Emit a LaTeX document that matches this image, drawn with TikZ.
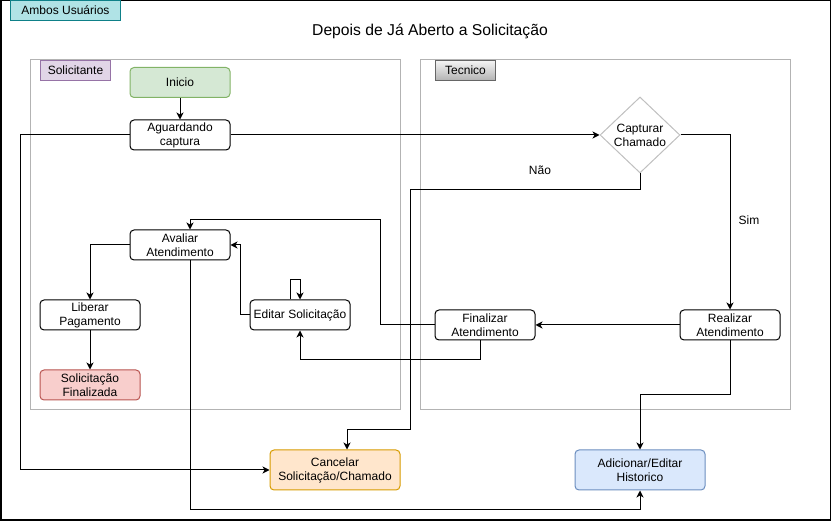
\documentclass[tikz,border=0pt]{standalone}
\usepackage{fontspec}
\setmainfont{Liberation Sans}
\usetikzlibrary{shapes.geometric,arrows.meta}
\definecolor{lanegray}{HTML}{B3B3B3}
\definecolor{tealfill}{HTML}{B0E3E6}
\definecolor{tealdraw}{HTML}{0E8088}
\definecolor{purfill}{HTML}{E1D5E7}
\definecolor{purdraw}{HTML}{9673A6}
\definecolor{grnfill}{HTML}{D5E8D4}
\definecolor{grndraw}{HTML}{82B366}
\definecolor{redfill}{HTML}{F8CECC}
\definecolor{reddraw}{HTML}{B85450}
\definecolor{orgfill}{HTML}{FFE6CC}
\definecolor{orgdraw}{HTML}{D79B00}
\definecolor{blufill}{HTML}{DAE8FC}
\definecolor{bludraw}{HTML}{6C8EBF}
\definecolor{diadraw}{HTML}{C0C0C0}
\begin{document}
\begin{tikzpicture}[x=1pt,y=-1pt,
  every node/.style={font=\fontsize{12}{14}\selectfont},
  proc/.style={draw=black,line width=1pt,rounded corners=4pt,fill=white,align=center,inner sep=0pt,minimum width=100pt,minimum height=30pt},
  bigproc/.style={proc,minimum width=130pt,minimum height=40pt},
  lane/.style={draw=lanegray,line width=1pt},
  tag/.style={line width=1pt,inner sep=0pt,minimum height=20pt,anchor=north west},
  conn/.style={draw=black,line width=1pt},
  arr/.style={conn,-{Stealth[length=7pt,width=7pt,inset=2pt]}}]
\useasboundingbox (0,0) rectangle (831,521);
% outer frame
\draw[black,line width=1.5pt] (0.75,0.75) rectangle (830.25,520.25);
\node[tag,draw=tealdraw,fill=tealfill,minimum width=110pt] (ambos) at (10,0) {Ambos Usuários};
\node[font=\fontsize{15.7}{18}\selectfont] (title) at (430,31) {Depois de Já Aberto a Solicitação};
% lanes
\draw[lane] (30,60) rectangle (400,410);
\draw[lane] (420,60) rectangle (790,410);
\node[tag,draw=purdraw,fill=purfill,minimum width=70pt] (sol) at (40,60) {Solicitante};
\node[tag,draw=gray!80!black,top color=white!96!black,bottom color=white!70!black,minimum width=60pt] (tec) at (435,60) {Tecnico};
% nodes
\node[proc,draw=grndraw,fill=grnfill] (inicio) at (180,82.5) {Inicio};
\node[proc] (aguard) at (180,135) {Aguardando\\captura};
\node[diamond,draw=diadraw,line width=1pt,fill=white,inner sep=0pt,minimum width=80pt,minimum height=76pt,
  label={[align=center]center:Capturar\\Chamado}] (cap) at (640,135) {};
\node[proc] (real) at (730,325) {Realizar\\Atendimento};
\node[proc] (fin) at (485,325) {Finalizar\\Atendimento};
\node[proc] (edit) at (300,315) {Editar Solicitação};
\node[proc] (aval) at (180,245) {Avaliar\\Atendimento};
\node[proc] (lib) at (90,315) {Liberar\\Pagamento};
\node[proc,draw=reddraw,fill=redfill] (solfin) at (90,385) {Solicitação\\Finalizada};
\node[bigproc,draw=orgdraw,fill=orgfill] (cancel) at (335,470) {Cancelar\\Solicitação/Chamado};
\node[bigproc,draw=bludraw,fill=blufill] (hist) at (640,470) {Adicionar/Editar\\Historico};
\node (sim) at (749,220) {Sim};
\node (nao) at (540,170) {Não};
% connectors
\draw[arr] (inicio) -- (aguard);
\draw[arr] (aguard.east) -- (cap.west);
\draw[arr] (aguard.west) -- (20,135) |- (cancel.west);
\draw[arr] (cap.east) -| (real.north);
\draw[arr] (cap.south) -- (640,190) -- (410,190) -- (410,430) -- (347,430) -- (347,0 |- cancel.north);
\draw[arr] (real.west) -- (fin.east);
\draw[arr] (real.south) -- (730,395) -| (hist.north);
\draw[arr] (fin.west) -- (380,325) -- (380,220) -- (190,220) -- (190,0 |- aval.north);
\draw[arr] (480,0 |- fin.south) -- (480,360) -| (edit.south);
\draw[arr] (290,0 |- edit.north) -- (290,280) -- (300,280) -- (edit.north);
\draw[arr] (edit.west) -- (240,315) |- (aval.east);
\draw[arr] (aval.west) -| (lib.north);
\draw[arr] (lib.south) -- (solfin.north);
\draw[arr] (190,0 |- aval.south) -- (190,510) -| (hist.south);
\end{tikzpicture}
\end{document}
